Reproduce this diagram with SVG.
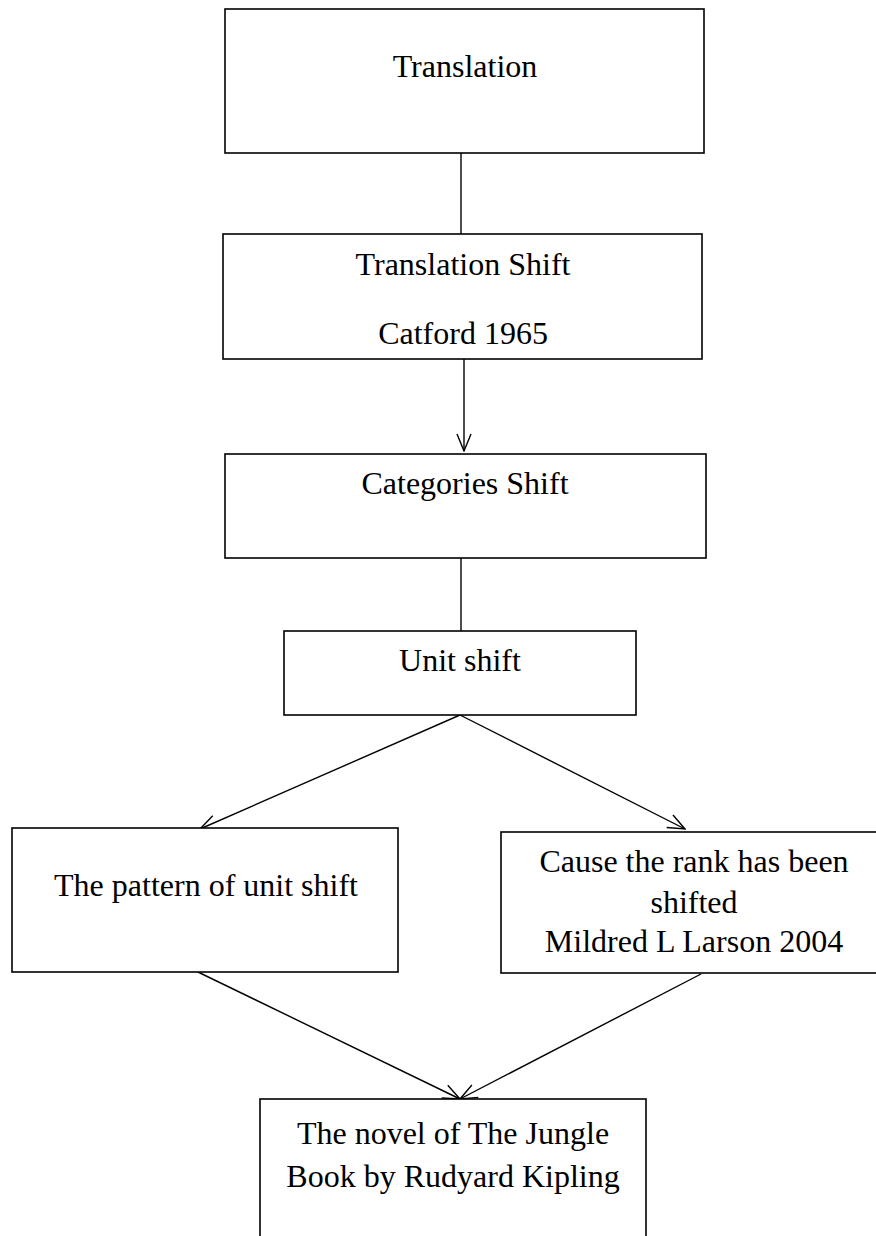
<svg xmlns="http://www.w3.org/2000/svg" width="876" height="1236" viewBox="0 0 876 1236">
<style>
.box{fill:#fff;stroke:#000;stroke-width:1.6}
.t{font-family:"Liberation Serif","Times New Roman",serif;font-size:32px;fill:#000;text-anchor:middle}
.c{stroke:#000;stroke-width:1.4;fill:none}
</style>
<defs>
<marker id="ah" viewBox="0 0 20 20" refX="19" refY="10" markerWidth="20" markerHeight="20" markerUnits="userSpaceOnUse" orient="auto">
<path d="M2,3 L19,10 L2,17" fill="none" stroke="#000" stroke-width="1.4"/>
</marker>
</defs>
<rect width="876" height="1236" fill="#fff"/>
<g id="connectors">
<line class="c" x1="461" y1="153" x2="461" y2="234"/>
<line class="c" x1="464" y1="359" x2="464" y2="451" marker-end="url(#ah)"/>
<line class="c" x1="461" y1="558" x2="461" y2="631"/>
<line class="c" x1="460" y1="715" x2="200" y2="829" marker-end="url(#ah)"/>
<line class="c" x1="460" y1="715" x2="685" y2="829" marker-end="url(#ah)"/>
<line class="c" x1="198" y1="972" x2="460" y2="1099" marker-end="url(#ah)"/>
<line class="c" x1="701" y1="974" x2="460" y2="1099" marker-end="url(#ah)"/>
</g>
<g id="n1">
<rect class="box" x="225" y="9" width="479" height="144"/>
<text class="t" x="465" y="77">Translation</text>
</g>
<g id="n2">
<rect class="box" x="223" y="234" width="479" height="125"/>
<text class="t" x="463" y="275">Translation Shift</text>
<text class="t" x="463" y="344">Catford 1965</text>
</g>
<g id="n3">
<rect class="box" x="225" y="454" width="481" height="104"/>
<text class="t" x="465" y="494">Categories Shift</text>
</g>
<g id="n4">
<rect class="box" x="284" y="631" width="352" height="84"/>
<text class="t" x="460" y="671">Unit shift</text>
</g>
<g id="n5">
<rect class="box" x="12" y="828" width="386" height="144"/>
<text class="t" x="206" y="896">The pattern of unit shift</text>
</g>
<g id="n6">
<rect class="box" x="501" y="832" width="390" height="141"/>
<text class="t" x="694" y="872">Cause the rank has been</text>
<text class="t" x="694" y="913">shifted</text>
<text class="t" x="694" y="952">Mildred L Larson 2004</text>
</g>
<g id="n7">
<rect class="box" x="260" y="1099" width="386" height="160"/>
<text class="t" x="453" y="1144">The novel of The Jungle</text>
<text class="t" x="453" y="1187">Book by Rudyard Kipling</text>
</g>
</svg>
